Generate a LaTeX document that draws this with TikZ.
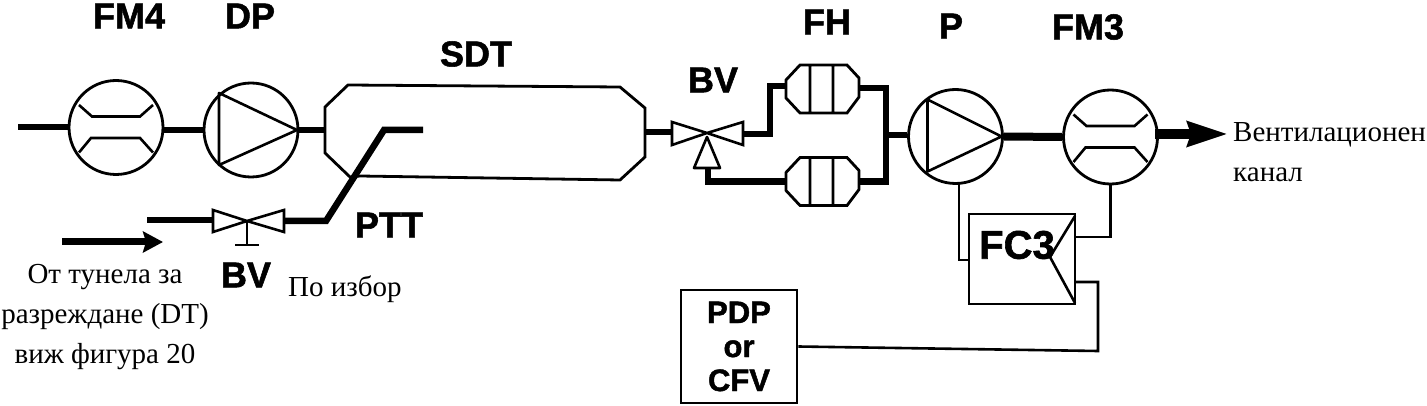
\documentclass[tikz,border=0pt]{standalone}
\usepackage{fontspec}
\setmainfont{Liberation Serif}
\newfontfamily\labelsans{Liberation Sans}[BoldFeatures={FakeBold=1.5}]
\usetikzlibrary{arrows.meta}
\tikzset{
  pipe/.style={line width=6.5pt,line join=miter},
  wire/.style={line width=2.6pt,line join=miter},
  outline/.style={draw,line width=2.8pt,inner sep=0pt,fill=white},
  meter/.style={outline,circle,minimum size=94pt},
  port/.style={inner sep=0pt,minimum width=73pt,minimum height=48pt},
  tag/.style={font=\labelsans\bfseries\fontsize{36}{36}\selectfont,inner sep=0pt},
  caption/.style={font=\fontsize{29}{40}\selectfont,inner sep=0pt,align=center},
}
% Venturi throat inside a flow meter
\newcommand{\venturi}[1]{%
  \draw[wire,shift={(#1)}] (-37,-22.5) -- (-24,-11) -- (24,-11) -- (37,-22.5)
        (-37,25) -- (-25,10.5) -- (24,10.5) -- (37,25);}
% Wedge of a pump symbol, tip at the outlet side
\newcommand{\pumpwedge}[2]{%
  \draw[wire,shift={(#1)},line join=round] (#2,-37) -- (46,0) -- (#2,35) -- cycle;}
% Two-way valve body around a centre coordinate
\newcommand{\valvebody}[1]{%
  \draw[wire,shift={(#1)},line join=miter]
    (-34,-11) -- (0,0) -- (-34,11) -- cycle
    (37,-11) -- (0,0) -- (37,11) -- cycle;}
% Filter holder: chamfered housing with two element bars
\newcommand{\filterbody}[1]{%
  \draw[wire,shift={(#1)},line width=2.8pt] (-36.5,-9) -- (-22.5,-24) -- (24.5,-24) -- (36.5,-11)
     -- (36.5,8) -- (24.5,24) -- (-22.5,24) -- (-36.5,9) -- cycle
     (-12.5,-24) -- (-12.5,24) (10.5,-24) -- (10.5,24);}
\begin{document}
\begin{tikzpicture}[x=1pt,y=-1pt]
\useasboundingbox (0,0) rectangle (1427,406);

% main equipment
\node[meter] (fm4) at (116,127.5) {};
\node[meter] (dp) at (251,130) {};
\node[inner sep=0pt,minimum width=320pt,minimum height=92pt] (sdt) at (485,132) {};
\node[port] (fh1) at (822.5,89) {};
\node[port] (fh2) at (822.5,181.5) {};
\node[meter] (p) at (955.5,136.5) {};
\node[meter] (fm3) at (1110.5,137) {};
\node[draw,line width=2.6pt,minimum width=106pt,minimum height=90pt,inner sep=0pt] (fc3) at (1022,259) {};
\node[draw,line width=2.8pt,minimum width=116pt,minimum height=113pt,inner sep=0pt,
      font=\labelsans\bfseries\fontsize{31}{34}\selectfont,align=center] (pdp) at (739,346.5) {PDP\\or\\CFV};

% dilution tunnel housing
\draw[line width=2.8pt,line join=miter] (325,107) -- (348,85) -- (620,87) -- (645,108) -- (645,157)
   -- (620,180) -- (360,176) -- (350,177) -- (325,153) -- cycle;

\venturi{fm4}
\venturi{fm3}
\pumpwedge{dp}{-32}
\pumpwedge{p}{-28}
\filterbody{fh1}
\filterbody{fh2}

% isolation valve on the transfer tube
\coordinate (bv1) at (247,221);
\valvebody{bv1}
\draw[wire] (bv1) -- ++(0,24) coordinate (bv1s) (235,245) -- (259,245);

% three-way valve ahead of the filters
\coordinate (bv2) at (707,133);
\draw[wire] (672,122) -- (bv2) -- (672,145) -- cycle
            (743,122) -- (bv2) -- (743,145) -- cycle;
\draw[wire,line join=round] (707,137) -- (694,168) -- (720,168) -- cycle;

% sampling line
\coordinate (in) at (18,127);
\coordinate (ptt0) at (147,220);
\coordinate (ptt1) at (423,130);
\draw[pipe] (in) -- (fm4.west |- in);
\draw[pipe] (fm4.east |- dp.east) -- (dp.west);
\draw[pipe] (dp.east) -- (sdt.west |- dp.east);
\draw[pipe] (ptt0) -- (213,220);
\draw[pipe] (284,221) -- (326,221) -- (384,130) -- (ptt1);
\draw[pipe] (sdt.east) -- (672,132);
\draw[pipe] (743,134) -- (770,134) -- (770,86) -- (fh1.west |- 770,86);
\draw[pipe] (708,168) -- (708,181.5) -- (fh2.west);
\draw[pipe] (fh1.east |- 887,88) -- (886,88) -- (886,181.5) -- (fh2.east);
\draw[pipe] (886,135) -- (p.west |- 886,135);
\draw[pipe,line width=8pt] (p.east) -- (fm3.west);
\coordinate (out) at (1228,134);
\draw[-{Stealth[length=40pt,width=24pt,inset=3pt]},line width=9.5pt] (1155,134) -- (out);

% direction of flow from the dilution tunnel
\coordinate (flow0) at (62,242);
\coordinate (flow1) at (163,242);
\draw[-{Stealth[length=20pt,width=21pt,inset=3pt]},line width=7pt] (flow0) -- (flow1);

% flow controller and its signal lines
\draw[wire] (1075,216) -- (1050,257) -- (1075,303);
\draw[wire] (959,183) -- (959,260) -- (969,260);
\draw[wire] (fm3.south) -- (1110.5,237) -- (1075,237);
\draw[wire] (1075,282) -- (1098,282) -- (1098,351) -- (pdp.east);

% equipment tags
\node[tag] (t1) at (129,16) {FM4};
\node[tag] (t2) at (250,16) {DP};
\node[tag] (t3) at (476,54) {SDT};
\node[tag] (t4) at (389,225) {PTT};
\node[tag] (t5) at (246,275) {BV};
\node[tag] (t6) at (713,80) {BV};
\node[tag] (t7) at (827,22) {FH};
\node[tag] (t8) at (951,26) {P};
\node[tag] (t9) at (1088,27) {FM3};
\node[tag,font=\labelsans\bfseries\fontsize{40}{40}\selectfont] (t10) at (1017,245) {FC3};

% captions
\node[caption] (c1) at (105,317) {От тунела за\\разреждане (DT)\\виж фигура 20};
\node[caption,anchor=west] (c2) at (288,289) {По избор};
\node[caption,anchor=north west,align=left] (c3) at (1233,122.5) {Вентилационен\\канал};
\end{tikzpicture}
\end{document}
